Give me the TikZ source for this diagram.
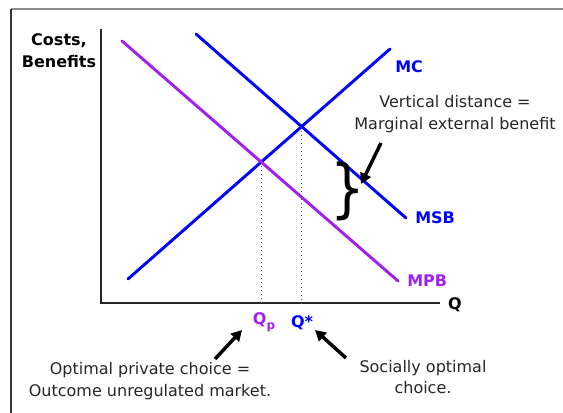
\documentclass[tikz,border=0pt]{standalone}
\usepackage{fontspec}
\setmainfont{DejaVu Sans}
\usetikzlibrary{positioning,calc,arrows.meta}
\definecolor{mpbpurple}{RGB}{160,32,240}
\definecolor{msbblue}{RGB}{0,0,255}
\tikzset{
  curve/.style={line width=2.2pt, line cap=round},
  axis/.style={line width=1.6pt, black!85},
  lbl/.style={font=\bfseries\fontsize{12}{16.5}\selectfont, inner sep=0pt},
  note/.style={font=\fontsize{12}{16}\selectfont, align=center, text=black!85, inner sep=0pt},
  guide/.style={dotted, black!65, line width=1pt},
  pointer/.style={-{Triangle[length=8pt,width=8.5pt]}, line width=2.6pt},
}

\begin{document}
\begin{tikzpicture}[x=0.75pt, y=-0.75pt]
  \useasboundingbox (0,0) rectangle (563,413);
  % ------------------------------------------------------------------ frame
  \draw[black!45, line width=1.4pt] (11,9) -- (563,9);
  \draw[black!80, line width=1pt] (11,9) -- (11,413);
  % ------------------------------------------------------------------ axes
  \coordinate (origin) at (101,303);
  \coordinate (ytop) at (101,29);
  \coordinate (xend) at (440,303);
  \draw[axis] (ytop) -- (origin) -- (xend);
  \node[lbl, align=center] (costs) at (59,51) {Costs,\\Benefits};
  \node[lbl] (q) at (455,305) {Q};
  % ------------------------------------------------------------------ curves
  \coordinate (mcA) at (128,279);  \coordinate (mcB) at (390,49);
  \coordinate (msbA) at (196,34);  \coordinate (msbB) at (406,218);
  \coordinate (mpbA) at (122,41);  \coordinate (mpbB) at (398,281);
  \draw[curve, msbblue] (mcA) -- (mcB);
  \draw[curve, msbblue] (msbA) -- (msbB);
  \draw[curve, mpbpurple] (mpbA) -- (mpbB);
  \node[lbl, text=msbblue, anchor=west] (mc) at (395,67) {MC};
  \node[lbl, text=msbblue, anchor=west] (msb) at (415,218) {MSB};
  \node[lbl, text=mpbpurple, anchor=west] (mpb) at (407,281) {MPB};
  % ------------------------------------------------------------------ equilibria
  \coordinate (eqp) at (intersection of mcA--mcB and mpbA--mpbB);
  \coordinate (eqs) at (intersection of mcA--mcB and msbA--msbB);
  \draw[guide] (eqp) -- (eqp |- origin);
  \draw[guide] (eqs) -- (eqs |- origin);
  \node[lbl, text=mpbpurple] (qp) at (264,322) {Q\raisebox{-3.5pt}{\fontsize{9}{9}\selectfont p}};
  \node[lbl, text=msbblue] (qstar) at (302,323) {Q*};
  % ------------------------------------------------------------------ external benefit
  \node[inner sep=0pt, font=\fontsize{48}{48}\selectfont, xscale=0.85] (brace) at (348,191) {\}};
  \node[note] (vdist) at (455,114) {Vertical distance =\\Marginal external benefit};
  \coordinate (vtail) at (381,143);
  \coordinate (vtip) at (361,184);
  \draw[pointer] (vtail) -- (vtip);
  % ------------------------------------------------------------------ notes
  \node[note] (privnote) at (150,381) {Optimal private choice =\\Outcome unregulated market.};
  \node[note] (socnote) at (423,377) {Socially optimal\\choice.};
  \coordinate (ptail) at (215,359);  \coordinate (ptip) at (242,330);
  \coordinate (stail) at (346,358);  \coordinate (stip) at (315,330);
  \draw[pointer] (ptail) -- (ptip);
  \draw[pointer] (stail) -- (stip);
\end{tikzpicture}
\end{document}
